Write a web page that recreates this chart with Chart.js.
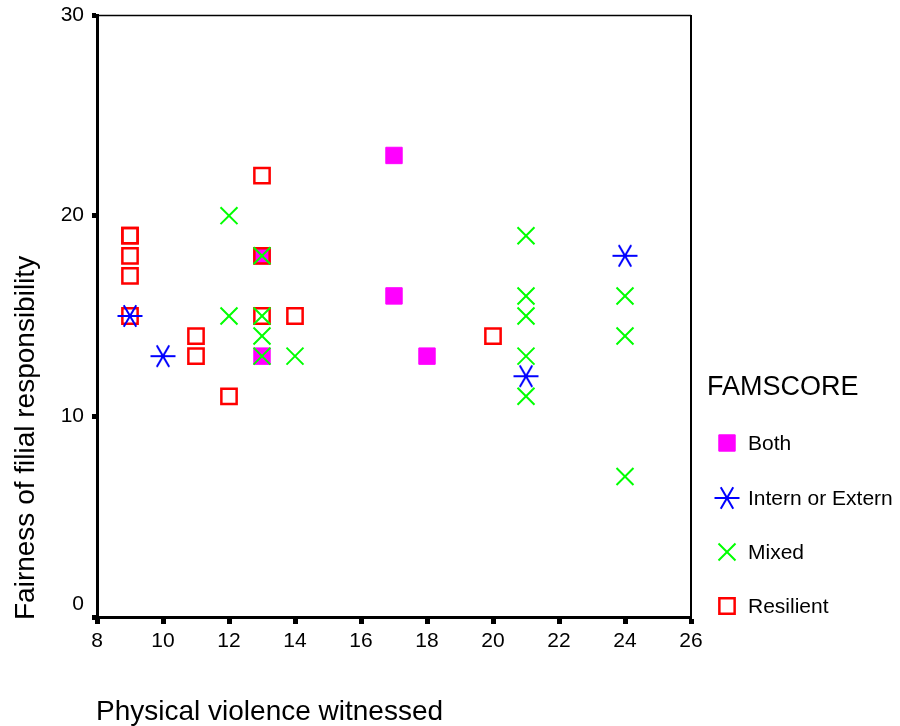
<!DOCTYPE html>
<html>
<head>
<meta charset="utf-8">
<script src="https://cdn.jsdelivr.net/npm/chart.js@4.4.0/dist/chart.umd.min.js"></script>
<style>
  html, body { margin: 0; padding: 0; background: #fff; }
  #wrap { width: 900px; height: 726px; }
</style>
</head>
<body>
<div id="wrap"><canvas id="myChart" width="900" height="726"></canvas></div>
<script>
// values
const groups = ['Both', 'Intern or Extern', 'Mixed', 'Resilient'];

const bothX = [13, 13, 17, 17, 18];
const bothY = [18, 13, 23, 16, 13];

const internX = [9, 10, 21, 24];
const internY = [15, 13, 12, 18];

const mixedX = [12, 12, 13, 13, 13, 13, 14, 21, 21, 21, 21, 21, 24, 24, 24];
const mixedY = [20, 15, 18, 15, 14, 13, 13, 19, 16, 15, 13, 11, 16, 14, 7];

const resilientX = [9, 9, 9, 9, 9, 11, 11, 12, 13, 13, 13, 14, 20];
const resilientY = [19, 19, 18, 17, 15, 14, 13, 11, 22, 18, 15, 15, 14];

const xTicks = [8, 10, 12, 14, 16, 18, 20, 22, 24, 26];
const yTicks = [0, 10, 20, 30];

const FONT = "'Liberation Sans', Arial, sans-serif";

function toPoints(xs, ys) {
  return xs.map((x, i) => ({ x: x, y: ys[i] }));
}

// SPSS style asterisk: three strokes, six arms
function makeAsterisk(color) {
  const c = document.createElement('canvas');
  c.width = 28;
  c.height = 28;
  const g = c.getContext('2d');
  g.strokeStyle = color;
  g.lineWidth = 2;
  g.translate(14, 14);
  [0, 60, 120].forEach(function (deg) {
    const a = deg * Math.PI / 180;
    g.beginPath();
    g.moveTo(-12.5 * Math.cos(a), -12.5 * Math.sin(a));
    g.lineTo(12.5 * Math.cos(a), 12.5 * Math.sin(a));
    g.stroke();
  });
  return c;
}
const asterisk = makeAsterisk('#0000ff');

const styles = [
  { pointStyle: 'rect', radius: 11.6, backgroundColor: '#ff00ff', borderColor: '#ff00ff', borderWidth: 1 },
  { pointStyle: asterisk, radius: 12, backgroundColor: '#0000ff', borderColor: '#0000ff', borderWidth: 2 },
  { pointStyle: 'crossRot', radius: 12, backgroundColor: '#00ff00', borderColor: '#00ff00', borderWidth: 2 },
  { pointStyle: 'rect', radius: 10.8, backgroundColor: 'rgba(0,0,0,0)', borderColor: '#ff0000', borderWidth: 2.5 }
];
const seriesData = [
  toPoints(bothX, bothY),
  toPoints(internX, internY),
  toPoints(mixedX, mixedY),
  toPoints(resilientX, resilientY)
];
// drawing order: Both at the bottom, Mixed on top
const drawOrder = [4, 2, 1, 3];

const datasets = groups.map(function (name, i) {
  const s = styles[i];
  return {
    label: name,
    data: seriesData[i],
    order: drawOrder[i],
    pointStyle: s.pointStyle,
    pointRadius: s.radius,
    pointHoverRadius: s.radius,
    pointBackgroundColor: s.backgroundColor,
    pointBorderColor: s.borderColor,
    pointBorderWidth: s.borderWidth,
    showLine: false,
    clip: false
  };
});

function drawMarker(ctx, s, x, y) {
  if (s.pointStyle instanceof HTMLCanvasElement) {
    ctx.drawImage(s.pointStyle, x - s.pointStyle.width / 2, y - s.pointStyle.height / 2);
    return;
  }
  ctx.save();
  ctx.fillStyle = s.backgroundColor;
  ctx.strokeStyle = s.borderColor;
  ctx.lineWidth = s.borderWidth;
  Chart.helpers.drawPoint(ctx, { pointStyle: s.pointStyle, radius: s.radius, borderWidth: s.borderWidth, rotation: 0 }, x, y);
  ctx.restore();
}

const extras = {
  id: 'extras',
  afterDraw(chart) {
    const ctx = chart.ctx;
    const a = chart.chartArea;
    ctx.save();
    // frame top / right
    ctx.strokeStyle = '#000';
    ctx.lineWidth = 1.5;
    ctx.beginPath();
    ctx.moveTo(a.left, a.top + 0.5);
    ctx.lineTo(a.right, a.top + 0.5);
    ctx.stroke();
    ctx.lineWidth = 2;
    ctx.beginPath();
    ctx.moveTo(a.right, a.top);
    ctx.lineTo(a.right, a.bottom);
    ctx.stroke();

    // axis titles
    ctx.fillStyle = '#000';
    ctx.font = '28px ' + FONT;
    ctx.textAlign = 'left';
    ctx.textBaseline = 'alphabetic';
    ctx.fillText('Physical violence witnessed', 96, 720);
    ctx.save();
    ctx.translate(34, 620);
    ctx.rotate(-Math.PI / 2);
    ctx.fillText('Fairness of filial responsibility', 0, 0);
    ctx.restore();

    // legend
    ctx.font = '27px ' + FONT;
    ctx.fillText('FAMSCORE', 707, 395);
    ctx.font = '21px ' + FONT;
    ctx.textBaseline = 'middle';
    const rows = [443, 498, 552, 606];
    groups.forEach(function (name, i) {
      drawMarker(ctx, styles[i], 727, rows[i]);
      ctx.fillStyle = '#000';
      ctx.fillText(name, 748, rows[i] + 1);
    });
    ctx.restore();
  }
};

const ctx = document.getElementById('myChart');
new Chart(ctx, {
  type: 'scatter',
  data: { datasets: datasets },
  options: {
    responsive: false,
    animation: false,
    layout: { padding: { left: 0, top: 15, right: 209, bottom: 0 } },
    plugins: { legend: { display: false }, tooltip: { enabled: false } },
    scales: {
      x: {
        type: 'linear',
        min: xTicks[0],
        max: xTicks[xTicks.length - 1],
        afterBuildTicks: function (scale) { scale.ticks = xTicks.map(v => ({ value: v })); },
        afterFit: function (scale) {
          scale.height = 109;
          scale.paddingLeft = 0;
          scale.paddingRight = 0;
        },
        border: { display: true, color: '#000', width: 3 },
        grid: { drawOnChartArea: false, drawTicks: true, tickLength: 7, tickWidth: 5, color: '#000' },
        ticks: { color: '#000', padding: 5, font: { family: FONT, size: 21 } }
      },
      y: {
        type: 'linear',
        min: yTicks[0],
        max: yTicks[yTicks.length - 1],
        afterBuildTicks: function (scale) { scale.ticks = yTicks.map(v => ({ value: v })); },
        afterFit: function (scale) {
          scale.width = 97;
          scale.paddingTop = 0;
          scale.paddingBottom = 0;
        },
        border: { display: true, color: '#000', width: 3 },
        grid: { drawOnChartArea: false, drawTicks: true, tickLength: 5, tickWidth: 5, color: '#000' },
        ticks: {
          color: '#000',
          padding: 8,
          font: { family: FONT, size: 21 },
          callback: function (v) { return v === 0 ? ['0', ''] : String(v); }
        }
      }
    }
  },
  plugins: [extras]
});
</script>
</body>
</html>
